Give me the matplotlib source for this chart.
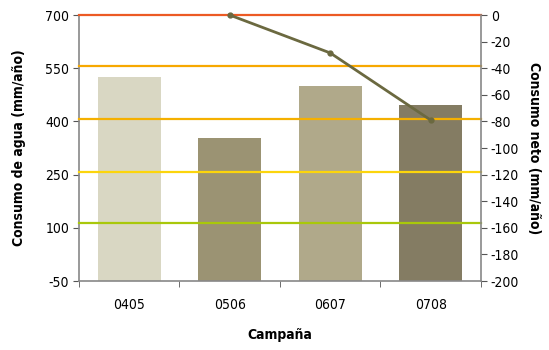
import matplotlib

matplotlib.use("Agg")
import matplotlib.pyplot as plt
import numpy as np

campaigns = ["0405", "0506", "0607", "0708"]
water_use = [525, 353, 500, 446]
bar_colors = ["#d9d7c3", "#9b9373", "#b0a98a", "#847c63"]

net_campaigns = ["0506", "0607", "0708"]
net_use = [0, -28.5, -79]

ref_levels = [700, 556, 407, 258, 113]
ref_colors = ["#ec5a24", "#f7a800", "#f5b000", "#fcd50c", "#a9c80a"]

left_ticks = [-50, 100, 250, 400, 550, 700]
right_ticks = list(range(0, -201, -20))

plt.rcParams["font.family"] = ["DejaVu Sans"]
plt.rcParams["font.stretch"] = "condensed"
plt.rcParams["font.size"] = 10
plt.rcParams["axes.unicode_minus"] = False

fig = plt.figure(figsize=(5.49, 3.5), dpi=100)
ax = fig.add_axes([0.1439, 0.197, 0.7322, 0.760])
x = np.arange(len(campaigns))
base = left_ticks[0]
ax.bar(x, np.array(water_use) - base, bottom=base, width=0.63, color=bar_colors, zorder=2)
for lvl, c in zip(ref_levels, ref_colors):
    ax.axhline(lvl, color=c, lw=1.6, zorder=3, clip_on=False)

ax.set_xlim(-0.5, len(campaigns) - 0.5)
ax.set_ylim(-50, 700)
ax.set_yticks(left_ticks)
ax.set_xticks(x)
ax.set_xticklabels(campaigns)
ax.set_xticks(np.arange(-0.5, len(campaigns)), minor=True)
ax.tick_params(axis="x", which="major", length=0, pad=12)
ax.tick_params(axis="x", which="minor", length=4, color="#555555")
ax.tick_params(axis="y", length=4, color="#555555", pad=3)
for s in ["top", "right"]:
    ax.spines[s].set_visible(False)
for s in ["left", "bottom"]:
    ax.spines[s].set_color("#888888")
    ax.spines[s].set_linewidth(1.2)
ax.set_ylabel("Consumo de agua (mm/año)", fontweight="bold", labelpad=14)
ax.set_xlabel("Campaña", fontweight="bold", labelpad=12)

ax2 = ax.twinx()
xi = [campaigns.index(c) for c in net_campaigns]
ax2.plot(xi, net_use, color="#6b6940", lw=2, marker="o", ms=3.5, zorder=5, clip_on=False)
ax2.set_ylim(-200, 0)
ax2.set_yticks(right_ticks)
ax2.tick_params(axis="y", length=4, color="#555555", pad=3)
for s in ["top", "left", "bottom"]:
    ax2.spines[s].set_visible(False)
ax2.spines["right"].set_color("#888888")
ax2.spines["right"].set_linewidth(1.2)
ax2.set_ylabel("Consumo neto (mm/año)", fontweight="bold", rotation=270, labelpad=16)

fig.savefig("out.png", dpi=100)
